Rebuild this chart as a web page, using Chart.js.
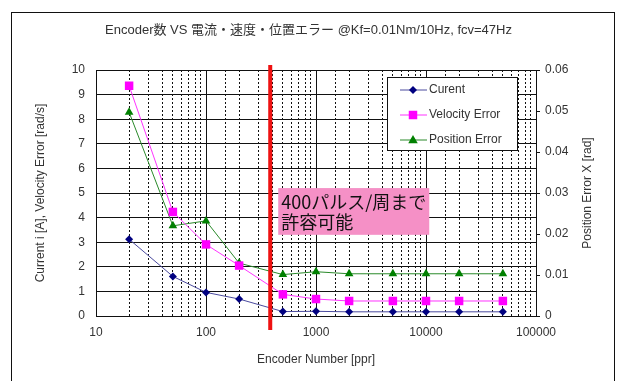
<!DOCTYPE html>
<html>
<head>
<meta charset="utf-8">
<script src="https://cdn.jsdelivr.net/npm/chart.js"></script>
<style>
  html, body { margin: 0; padding: 0; background: #fff; }
  #wrap { width: 617px; height: 381px; }
</style>
</head>
<body>
<div id="wrap"><canvas id="c" width="617" height="381"></canvas></div>
<script>
// Encoder resolution sweep (ppr) and resulting errors
const encoderCounts = [20, 50, 100, 200, 500, 1000, 2000, 5000, 10000, 20000, 50000];
const currentA      = [3.12, 1.61, 0.96, 0.69, 0.18, 0.19, 0.17, 0.17, 0.17, 0.17, 0.17];
const velocityError = [9.36, 4.23, 2.91, 2.05, 0.88, 0.69, 0.61, 0.61, 0.61, 0.61, 0.61];
const positionError = [0.0497, 0.0220, 0.0232, 0.0129, 0.0101, 0.0108, 0.0103, 0.0103, 0.0103, 0.0103, 0.0103];

const xTickLabels = ['10', '100', '1000', '10000', '100000'];
const limitPulses = 400;
const noteLines = ['400パルス/周まで', '許容可能'];
const noteTop = 5.2;     // left-axis value at the top of the note box
const noteBottom = 3.3;  // left-axis value at the bottom of the note box
const rightTitle = 'Position Error X [rad]';

const FONT = "'Liberation Sans', 'Noto Sans CJK JP', sans-serif";
const CJK = "'Noto Sans CJK JP', sans-serif";
const TXT = '#333';

const isDecade = v => Math.abs(Math.log10(v) - Math.round(Math.log10(v))) < 1e-9;
const toPts = ys => encoderCounts.map((x, i) => ({ x, y: ys[i] }));

function drawMarker(ctx, style, x, y, r, color) {
  ctx.save();
  ctx.fillStyle = color;
  ctx.beginPath();
  if (style === 'rectRot') {
    ctx.moveTo(x, y - r); ctx.lineTo(x + r, y); ctx.lineTo(x, y + r); ctx.lineTo(x - r, y);
  } else if (style === 'rect') {
    const s = r * Math.SQRT1_2;
    ctx.rect(x - s, y - s, 2 * s, 2 * s);
  } else {
    ctx.moveTo(x, y - r); ctx.lineTo(x + r * 0.95, y + r * 0.65); ctx.lineTo(x - r * 0.95, y + r * 0.65);
  }
  ctx.closePath();
  ctx.fill();
  ctx.restore();
}

const overlay = {
  id: 'overlay',
  beforeDraw(chart) {
    const ctx = chart.ctx;
    ctx.save();
    ctx.fillStyle = '#fff';
    ctx.fillRect(0, 0, chart.width, chart.height);
    ctx.restore();
  },
  afterDatasetsDraw(chart) {
    const ctx = chart.ctx;
    const xs = chart.scales.x, ys = chart.scales.y;
    const area = chart.chartArea;

    // allowable-limit marker
    const xl = xs.getPixelForValue(limitPulses) - 2;
    ctx.save();
    ctx.strokeStyle = '#ee1111';
    ctx.lineWidth = 4;
    ctx.beginPath();
    ctx.moveTo(xl, area.top - 5);
    ctx.lineTo(xl, area.bottom + 14);
    ctx.stroke();

    // note box
    const bx = xl + 8, by = ys.getPixelForValue(noteTop);
    const bh = ys.getPixelForValue(noteBottom) - by;
    ctx.font = '18px ' + CJK;
    const bw = Math.max(...noteLines.map(t => ctx.measureText(t).width)) + 6;
    ctx.fillStyle = '#f590c6';
    ctx.fillRect(bx, by, bw, bh);
    ctx.fillStyle = '#111';
    ctx.textBaseline = 'middle';
    ctx.textAlign = 'left';
    ctx.fillText(noteLines[0], bx + 3, by + 14);
    ctx.fillText(noteLines[1], bx + 3, by + 34);
    ctx.restore();

    // legend box
    const lw = 130, lh = 73;
    const lx = area.right - 19 - lw, ly = area.top + 7;
    ctx.save();
    ctx.fillStyle = '#fff';
    ctx.fillRect(lx, ly, lw, lh);
    ctx.strokeStyle = '#111';
    ctx.lineWidth = 1;
    ctx.strokeRect(Math.round(lx) + 0.5, Math.round(ly) + 0.5, lw, lh);
    chart.data.datasets.forEach((ds, i) => {
      const yy = ly + 13 + i * 25;
      ctx.strokeStyle = ds.borderColor;
      ctx.lineWidth = 1;
      ctx.beginPath();
      ctx.moveTo(lx + 13, yy); ctx.lineTo(lx + 40, yy);
      ctx.stroke();
      drawMarker(ctx, ds.pointStyle, lx + 26, yy, ds.pointRadius, ds.pointBackgroundColor);
      ctx.fillStyle = TXT;
      ctx.font = '12px ' + FONT;
      ctx.textBaseline = 'middle';
      ctx.fillText(ds.label, lx + 42, yy);
    });
    ctx.restore();
  },
  afterDraw(chart) {
    const ctx = chart.ctx;
    const area = chart.chartArea;
    ctx.save();
    // right-axis title, reading bottom to top
    ctx.translate(588, (area.top + area.bottom) / 2);
    ctx.rotate(-Math.PI / 2);
    ctx.fillStyle = TXT;
    ctx.font = '12px ' + FONT;
    ctx.textAlign = 'center';
    ctx.textBaseline = 'middle';
    ctx.fillText(rightTitle, 0, 0);
    ctx.restore();

    ctx.save();
    ctx.strokeStyle = '#111';
    ctx.lineWidth = 1;
    ctx.strokeRect(11.5, 12.5, 603, 400);
    ctx.restore();
  }
};

new Chart(document.getElementById('c'), {
  type: 'line',
  data: {
    datasets: [
      {
        label: 'Curent', data: toPts(currentA), yAxisID: 'y',
        borderColor: '#4a4a9e', borderWidth: 1,
        pointStyle: 'rectRot', pointRadius: 4,
        pointBackgroundColor: '#000080', pointBorderColor: '#000080', pointBorderWidth: 0
      },
      {
        label: 'Velocity Error', data: toPts(velocityError), yAxisID: 'y',
        borderColor: '#ff33ff', borderWidth: 1,
        pointStyle: 'rect', pointRadius: 6,
        pointBackgroundColor: '#ff00ff', pointBorderColor: '#ff00ff', pointBorderWidth: 0
      },
      {
        label: 'Position Error', data: toPts(positionError), yAxisID: 'y1',
        borderColor: '#2a8a2a', borderWidth: 1,
        pointStyle: 'triangle', pointRadius: 5,
        pointBackgroundColor: '#008000', pointBorderColor: '#008000', pointBorderWidth: 0
      }
    ]
  },
  options: {
    responsive: false,
    animation: false,
    layout: { padding: 0 },
    plugins: {
      legend: { display: false },
      tooltip: { enabled: false },
      title: {
        display: true,
        text: 'Encoder数 VS 電流・速度・位置エラー @Kf=0.01Nm/10Hz, fcv=47Hz',
        color: TXT,
        font: { family: FONT, size: 13, weight: 'normal' },
        padding: { top: 23, bottom: 31.4 }
      }
    },
    scales: {
      x: {
        type: 'logarithmic',
        min: 10, max: 100000,
        afterFit(s) { s.height = 65; },
        grid: { color: '#111', lineWidth: 1, drawTicks: false },
        border: {
          color: '#111',
          dash: ctx => (ctx.tick && !isDecade(ctx.tick.value)) ? [2, 2] : []
        },
        ticks: {
          autoSkip: false, maxRotation: 0, padding: 9,
          color: TXT, font: { family: FONT, size: 12 },
          callback: v => { const s = String(Math.round(v)); return (isDecade(v) && xTickLabels.includes(s)) ? s : ''; }
        },
        title: {
          display: true, text: 'Encoder Number [ppr]', color: TXT,
          font: { family: FONT, size: 12 }, padding: { top: 0, bottom: 14 }
        }
      },
      y: {
        position: 'left',
        min: 0, max: 10,
        afterFit(s) { s.width = 96; },
        grid: { color: '#111', lineWidth: 1, drawTicks: false },
        border: { color: '#111' },
        ticks: { stepSize: 1, padding: 11, color: TXT, font: { family: FONT, size: 12 } },
        title: {
          display: true, text: 'Current i [A], Velocity Error [rad/s]', color: TXT,
          font: { family: FONT, size: 12 }, padding: { top: 33, bottom: 0 }
        }
      },
      y1: {
        position: 'right',
        min: 0, max: 0.06,
        afterFit(s) { s.width = 81; },
        grid: { drawOnChartArea: false, drawTicks: true, tickLength: 4, color: '#111' },
        border: { color: '#111' },
        ticks: {
          stepSize: 0.01, padding: 5, color: TXT, font: { family: FONT, size: 12 },
          callback: v => v === 0 ? '0' : Number(v).toFixed(2)
        },
        title: { display: false }
      }
    }
  },
  plugins: [overlay]
});
</script>
</body>
</html>
